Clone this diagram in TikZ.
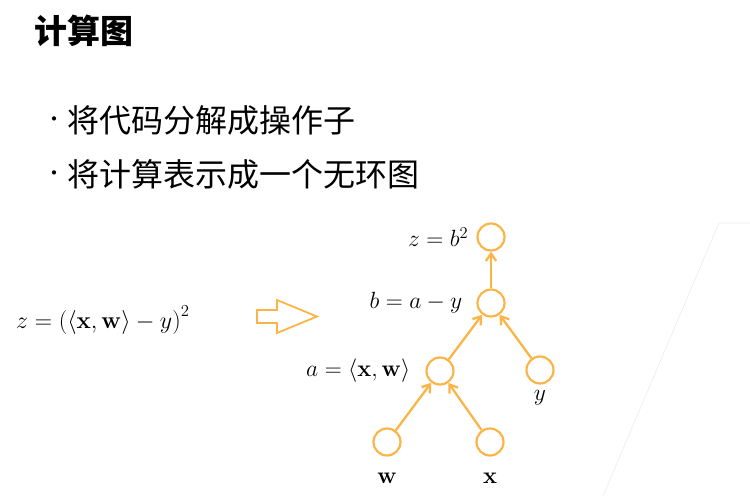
\RequirePackage{fix-cm}
\documentclass[tikz,border=0pt]{standalone}
\usepackage[no-math]{fontspec}
\newfontfamily\cjk{Noto Sans CJK SC}
\usetikzlibrary{arrows.meta,positioning}

\definecolor{gorange}{RGB}{251,180,72}

\tikzset{
  op/.style={circle, draw=gorange, line width=2.2pt, minimum size=27pt, inner sep=0pt},
  flow/.style={draw=gorange, line width=2.3pt, -{Straight Barb[angle=70:9pt, line width=2.3pt]}},
  lbl/.style={font=\fontsize{23.5}{27}\selectfont, inner sep=0pt},
  item/.style={anchor=west, inner sep=0pt, font=\cjk\fontsize{32}{36}\selectfont}
}

\begin{document}
\begin{tikzpicture}[x=1pt, y=-1pt]
	\useasboundingbox (0,0) rectangle (750,496);
	% slide decoration
	\draw[black!8, line width=0.6pt] (750,223) -- (719,223) -- (603,496);
	% title and bullets
	\node[item, font=\cjk\bfseries\fontsize{33}{36}\selectfont] (T) at (34,31) {计算图};
	\node[item] (D1) at (44,122) {\fontsize{20}{24}\selectfont •};
	\node[item] (L1) at (67,120) {将代码分解成操作子};
	\node[item] (D2) at (44,176) {\fontsize{20}{24}\selectfont •};
	\node[item] (L2) at (67,174) {将计算表示成一个无环图};
	% formula and hollow arrow
	\node[lbl, anchor=west, font=\fontsize{24}{28}\selectfont] (F) at (16,320) {$z=\Bigl(\langle\mathbf{x},\mathbf{w}\rangle-y\Bigr)^2$};
	\draw[gorange, line width=1.8pt, line join=miter] (257,310) -- (277,310) -- (277,300)
		-- (317,316.5) -- (277,333) -- (277,323) -- (257,323) -- cycle;
	% graph
	\node[op] (Z) at (491,237) {};
	\node[op] (B) at (491,303) {};
	\node[op] (A) at (440,371) {};
	\node[op] (Y) at (540,370) {};
	\node[op] (W) at (387,442) {};
	\node[op] (X) at (490,442) {};
	\node[lbl, left=8pt of Z] (Zl) {$z=b^2$};
	\node[lbl, left=14pt of B] (Bl) {$b=a-y$};
	\node[lbl, left=15pt of A] (Al) {$a=\langle\mathbf{x},\mathbf{w}\rangle$};
	\node[lbl, below=6pt of Y] (Yl) {$y$};
	\node[lbl, below=16pt of W] (Wl) {$\mathbf{w}$};
	\node[lbl, below=16pt of X] (Xl) {$\mathbf{x}$};
	\draw[flow] (W) to (A);
	\draw[flow] (X) to (A);
	\draw[flow] (A) to (B);
	\draw[flow] (Y) to (B);
	\draw[flow] (B) to (Z);
\end{tikzpicture}
\end{document}
